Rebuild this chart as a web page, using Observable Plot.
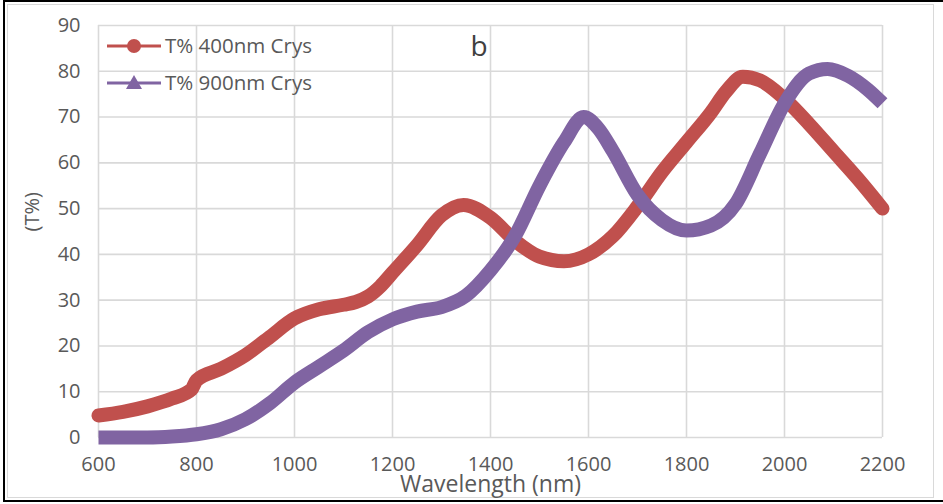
<!DOCTYPE html>
<html>
<head>
<meta charset="utf-8">
<script src="https://cdn.jsdelivr.net/npm/d3@7"></script>
<script src="https://cdn.jsdelivr.net/npm/@observablehq/plot@0.6"></script>
<style>
  html, body { margin: 0; padding: 0; background: #fff; overflow: hidden; }
  #wrap { position: relative; width: 943px; height: 504px; overflow: hidden; }
  #wrap svg { position: absolute; left: 0; top: 0; }
  .outer { position: absolute; left: 3px; top: 0px; width: 945px; height: 498px; border: 2px solid #000; box-sizing: content-box; }
  .inner { position: absolute; left: 7px; top: 4px; width: 925px; height: 492px; border: 1px solid #d9d9d9; }
</style>
</head>
<body>
<div id="wrap"><div class="outer"></div><div class="inner"></div></div>
<script>
// ---- data ----
const seriesNames = ["T% 400nm Crys", "T% 900nm Crys"];

const wl400 = [600, 650, 700, 750, 790, 800, 850, 900, 950, 1000, 1050, 1100, 1125, 1150, 1175, 1200, 1250, 1300, 1345, 1400, 1450, 1500, 1550, 1600, 1650, 1700, 1750, 1800, 1850, 1880, 1915, 1950, 2000, 2050, 2100, 2150, 2200];
const t400  = [4.8, 5.6, 6.8, 8.5, 10.5, 12.5, 15, 18, 22, 26, 28, 29, 29.6, 30.8, 33, 36, 42, 48.5, 50.8, 48, 43, 39.5, 38.5, 40, 44, 50.5, 58, 64.5, 71, 75.5, 78.8, 78, 74, 68.5, 62.5, 56.5, 50];

const wl900 = [600, 650, 700, 750, 800, 850, 900, 950, 1000, 1050, 1100, 1150, 1200, 1250, 1300, 1350, 1400, 1450, 1500, 1550, 1590, 1620, 1650, 1700, 1750, 1800, 1850, 1900, 1950, 2000, 2050, 2088, 2130, 2170, 2200];
const t900  = [0, 0, 0, 0.2, 0.7, 1.8, 4, 7.5, 12, 15.5, 19, 23, 25.8, 27.5, 28.5, 31, 36.5, 44, 55, 64.5, 70, 67.5, 62.5, 53, 47.5, 45.2, 46.3, 51, 62, 73, 79.5, 80.5, 79, 76, 73];

const xTicks = [600, 800, 1000, 1200, 1400, 1600, 1800, 2000, 2200];
const yTicks = [0, 10, 20, 30, 40, 50, 60, 70, 80, 90];
const xTitle = "Wavelength (nm)";
const yTitle = "(T%)";
const panelLabel = "b";

const colors = ["#c0504d", "#8064a2"];

const red = wl400.map((x, i) => ({x, y: t400[i]}));
const purple = wl900.map((x, i) => ({x, y: t900[i]}));

const chart = Plot.plot({
  width: 943,
  height: 504,
  marginLeft: 98,
  marginRight: 61,
  marginTop: 25,
  marginBottom: 67,
  style: {fontFamily: "'Open Sans', sans-serif", color: "#595959", background: "transparent", overflow: "visible"},
  x: {domain: [600, 2200], label: null},
  y: {domain: [0, 90], label: null},
  marks: [
    Plot.gridX(xTicks, {stroke: "#d9d9d9", strokeOpacity: 1, strokeWidth: 1.6}),
    Plot.gridY(yTicks, {stroke: "#d9d9d9", strokeOpacity: 1, strokeWidth: 1.6}),
    Plot.axisX(xTicks, {tickSize: 0, tickPadding: 19, fontSize: 20, label: null, fill: "#595959", tickFormat: d => String(d)}),
    Plot.axisY(yTicks, {tickSize: 0, tickPadding: 18, fontSize: 20, label: null, fill: "#595959", tickFormat: d => String(d)}),
    Plot.line(red, {x: "x", y: "y", stroke: colors[0], strokeWidth: 14, curve: "monotone-x", strokeLinecap: "round", strokeLinejoin: "round"}),
    Plot.line(purple, {x: "x", y: "y", stroke: colors[1], strokeWidth: 14, curve: "monotone-x", strokeLinecap: "butt", strokeLinejoin: "round"}),
    Plot.text([xTitle], {frameAnchor: "bottom", dy: 47, text: d => d, fontSize: 23, fill: "#595959", lineAnchor: "middle"}),
    Plot.text([yTitle], {frameAnchor: "left", dx: -66, rotate: -90, text: d => d, fontSize: 20, fill: "#595959", lineAnchor: "middle"}),
    Plot.text([panelLabel], {frameAnchor: "top-left", dx: 372, dy: 22, text: d => d, fontSize: 28, fill: "#404040", lineAnchor: "middle"})
  ]
});

document.getElementById("wrap").appendChild(chart);

// legend inside the plot area
const svg = d3.select(chart);
const lg = svg.append("g").attr("font-family", "'Open Sans', sans-serif").attr("font-size", 20.5).attr("fill", "#595959").attr("text-anchor", "start");
seriesNames.forEach((name, i) => {
  const cy = 46 + i * 37;
  const g = lg.append("g").attr("transform", `translate(107,${cy})`);
  g.append("line").attr("x1", 0).attr("x2", 54).attr("y1", 0).attr("y2", 0).attr("stroke", colors[i]).attr("stroke-width", 3);
  if (i === 0) g.append("circle").attr("cx", 27).attr("cy", 0).attr("r", 7).attr("fill", colors[i]);
  else g.append("path").attr("d", "M27,-8L35,6L19,6Z").attr("fill", colors[i]);
  g.append("text").attr("x", 58).attr("y", 0).attr("dy", "0.35em").attr("text-anchor", "start").text(name);
});
</script>
</body>
</html>
